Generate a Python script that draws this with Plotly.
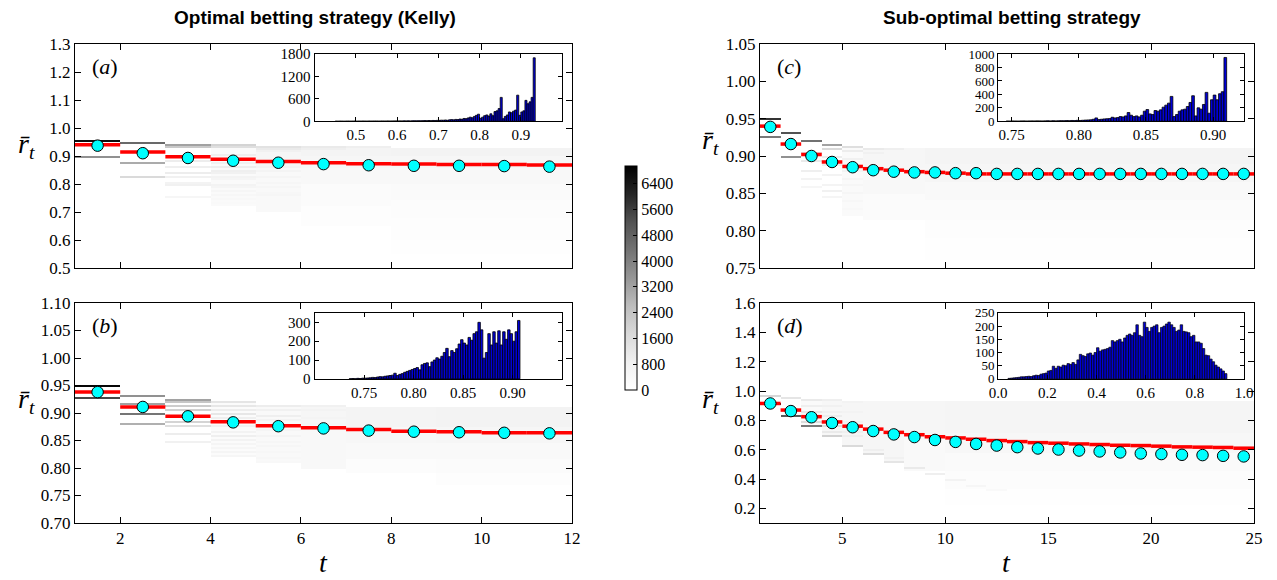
import numpy as np
import plotly.graph_objects as go

W, H = 1277, 580
SERIF = "Liberation Serif"
SANS = "Liberation Sans"

# ---------------- data ----------------
# step (red) values and mean (cyan markers) for each unit column t..t+1
red_a = [0.940, 0.914, 0.897, 0.888, 0.880, 0.876, 0.872, 0.871, 0.870, 0.870, 0.868]
mean_a = [0.937, 0.910, 0.893, 0.883, 0.876, 0.871, 0.867, 0.865, 0.865, 0.864, 0.862]
red_b = [0.938, 0.911, 0.894, 0.884, 0.877, 0.873, 0.870, 0.867, 0.866, 0.864, 0.864]
mean_b = [0.938, 0.911, 0.894, 0.883, 0.876, 0.872, 0.868, 0.866, 0.865, 0.864, 0.863]
red_c = [0.940, 0.916, 0.902, 0.892, 0.886, 0.883, 0.881, 0.879, 0.878, 0.877, 0.876, 0.876,
         0.876, 0.876, 0.876, 0.876, 0.876, 0.876, 0.876, 0.876, 0.876, 0.876, 0.876, 0.876]
mean_c = [0.939, 0.916, 0.900, 0.892, 0.885, 0.881, 0.879, 0.878, 0.878, 0.877, 0.877, 0.876,
          0.876, 0.876, 0.876, 0.876, 0.876, 0.876, 0.876, 0.876, 0.876, 0.876, 0.876, 0.876]
red_d = [0.915, 0.870, 0.825, 0.789, 0.760, 0.740, 0.718, 0.702, 0.688, 0.680, 0.671, 0.662,
         0.655, 0.648, 0.644, 0.639, 0.635, 0.630, 0.628, 0.624, 0.619, 0.617, 0.615, 0.610]
mean_d = [0.915, 0.863, 0.821, 0.782, 0.753, 0.727, 0.704, 0.686, 0.666, 0.653, 0.639, 0.628,
          0.617, 0.608, 0.601, 0.594, 0.588, 0.581, 0.574, 0.570, 0.565, 0.563, 0.558, 0.554]

# density lines (column t, r value, count) and bands (t0, t1, r_lo, r_hi, count)
lines_a = [
    (1, 0.957, 6600), (1, 0.900, 3600),
    (2, 0.946, 4600), (2, 0.878, 3000), (2, 0.825, 1700),
    (3, 0.937, 3200), (3, 0.932, 2200), (3, 0.880, 1000), (3, 0.862, 900), (3, 0.842, 1000),
    (3, 0.827, 800), (3, 0.803, 700), (3, 0.794, 800), (3, 0.757, 500),
    (4, 0.936, 1900), (4, 0.930, 1500), (4, 0.905, 900), (4, 0.872, 800), (4, 0.860, 1000),
    (4, 0.850, 900), (4, 0.838, 800), (4, 0.826, 700), (4, 0.815, 600), (4, 0.800, 700),
    (4, 0.787, 600), (4, 0.772, 500), (4, 0.760, 450), (4, 0.745, 400), (4, 0.730, 350),
    (5, 0.934, 1400), (5, 0.928, 1100), (5, 0.915, 800), (5, 0.862, 700), (5, 0.845, 650),
    (5, 0.822, 600), (5, 0.805, 550), (5, 0.790, 500), (5, 0.770, 450), (5, 0.758, 500),
    (6, 0.933, 1100), (6, 0.926, 900),
    (7, 0.932, 900),
]
bands_a = [
    (4, 5, 0.72, 0.93, 300),
    (5, 6, 0.86, 0.93, 500), (5, 6, 0.70, 0.86, 350),
    (6, 8, 0.90, 0.93, 650), (6, 8, 0.86, 0.90, 500), (6, 8, 0.80, 0.86, 380),
    (6, 8, 0.72, 0.80, 250), (6, 8, 0.65, 0.72, 130),
    (8, 12, 0.90, 0.932, 700), (8, 12, 0.86, 0.90, 520), (8, 12, 0.80, 0.86, 400),
    (8, 12, 0.74, 0.80, 280), (8, 12, 0.68, 0.74, 170), (8, 12, 0.60, 0.68, 90), (8, 12, 0.55, 0.60, 40),
]
lines_b = [
    (1, 0.949, 6800), (1, 0.926, 5400),
    (2, 0.932, 3600), (2, 0.918, 3200), (2, 0.900, 4300), (2, 0.881, 2900),
    (3, 0.925, 3200), (3, 0.920, 2300), (3, 0.914, 2100), (3, 0.904, 2000), (3, 0.885, 1900),
    (3, 0.876, 1500), (3, 0.861, 1000), (3, 0.849, 800),
    (4, 0.919, 1300), (4, 0.913, 1200), (4, 0.906, 1000), (4, 0.897, 1200), (4, 0.890, 900),
    (4, 0.876, 800), (4, 0.867, 700), (4, 0.859, 900), (4, 0.852, 700), (4, 0.843, 600),
    (4, 0.836, 550), (4, 0.828, 600), (4, 0.822, 500),
    (5, 0.913, 1000), (5, 0.906, 800), (5, 0.896, 900), (5, 0.886, 700), (5, 0.868, 600),
    (5, 0.858, 650), (5, 0.849, 550), (5, 0.840, 500), (5, 0.830, 450), (5, 0.820, 450), (5, 0.812, 400),
    (6, 0.912, 800), (6, 0.905, 700), (6, 0.890, 650), (6, 0.880, 600),
]
bands_b = [
    (4, 5, 0.82, 0.92, 250),
    (5, 6, 0.81, 0.912, 350),
    (6, 7, 0.87, 0.912, 550), (6, 7, 0.80, 0.87, 380),
    (7, 9, 0.875, 0.912, 650), (7, 9, 0.845, 0.875, 480), (7, 9, 0.815, 0.845, 330), (7, 9, 0.79, 0.815, 180),
    (9, 12, 0.875, 0.912, 700), (9, 12, 0.845, 0.875, 520), (9, 12, 0.815, 0.845, 370),
    (9, 12, 0.79, 0.815, 220), (9, 12, 0.77, 0.79, 100),
]
lines_c = [
    (1, 0.949, 5800), (1, 0.925, 4200),
    (2, 0.930, 5200), (2, 0.899, 3600),
    (3, 0.921, 4400), (3, 0.905, 1400), (3, 0.893, 1100), (3, 0.881, 900), (3, 0.868, 700), (3, 0.858, 500),
    (4, 0.914, 3200), (4, 0.909, 1700), (4, 0.900, 1000), (4, 0.887, 900), (4, 0.875, 700),
    (4, 0.862, 650), (4, 0.853, 800), (4, 0.845, 600),
    (5, 0.911, 1500), (5, 0.906, 1000), (5, 0.895, 800), (5, 0.880, 700), (5, 0.870, 600),
    (5, 0.860, 550), (5, 0.850, 500), (5, 0.840, 450), (5, 0.830, 400),
    (6, 0.910, 1100), (6, 0.905, 800),
    (7, 0.910, 900),
]
bands_c = [
    (5, 6, 0.82, 0.91, 300),
    (6, 9, 0.885, 0.91, 550), (6, 9, 0.85, 0.885, 400), (6, 9, 0.815, 0.85, 220),
    (9, 25, 0.89, 0.91, 650), (9, 25, 0.865, 0.89, 500), (9, 25, 0.84, 0.865, 350),
    (9, 25, 0.815, 0.84, 220), (9, 25, 0.79, 0.815, 120), (9, 25, 0.76, 0.79, 50),
]
lines_d = [
    (1, 0.962, 1800), (1, 0.915, 6500),
    (2, 0.952, 1300), (2, 0.870, 4000), (2, 0.827, 5000),
    (3, 0.937, 1100), (3, 0.900, 900), (3, 0.862, 1200), (3, 0.825, 2500), (3, 0.790, 1600), (3, 0.760, 4200),
    (4, 0.932, 900), (4, 0.900, 800), (4, 0.862, 800), (4, 0.825, 1000), (4, 0.790, 1200),
    (4, 0.760, 1500), (4, 0.727, 1100), (4, 0.693, 2000),
    (5, 0.930, 700), (5, 0.860, 700), (5, 0.790, 800), (5, 0.727, 900), (5, 0.695, 900), (5, 0.630, 1700),
    (6, 0.600, 900), (6, 0.576, 1600),
    (7, 0.545, 800), (7, 0.520, 1300),
    (8, 0.470, 1100),
    (9, 0.430, 900),
    (10, 0.390, 700),
    (11, 0.350, 500),
    (12, 0.320, 350),
]
bands_d = [
    (3, 4, 0.76, 0.94, 300),
    (4, 5, 0.69, 0.93, 450),
    (5, 6, 0.63, 0.93, 500),
    (6, 7, 0.58, 0.93, 500),
    (7, 8, 0.52, 0.93, 500),
    (8, 10, 0.70, 0.93, 550), (8, 10, 0.45, 0.70, 350),
    (10, 25, 0.72, 0.93, 600), (10, 25, 0.58, 0.72, 450), (10, 25, 0.45, 0.58, 280),
    (10, 25, 0.33, 0.45, 150), (10, 25, 0.22, 0.33, 70),
]

# inset histograms: first bin edge, bin width, counts
hist_a_start, hist_a_width = 0.45, 0.005
hist_a_counts = [2, 0, 3, 2, 0, 3, 4, 2, 3, 5, 2, 4, 3, 5, 4, 3, 6, 4, 5, 6, 5, 4, 7, 6, 5, 8, 6, 7, 8, 9,
                 8, 10, 9, 11, 10, 12, 9, 13, 14, 12, 15, 13, 16, 18, 15, 20, 17, 22, 19, 24,
                 25, 30, 28, 35, 26, 40, 45, 38, 50, 45,
                 60, 55, 75, 70, 90, 110, 95, 130, 160, 190,
                 80, 110, 150, 170, 140, 200, 150, 260, 280, 340,
                 640,
                 70, 130, 170, 250, 230, 270, 300,
                 700,
                 160, 250, 280, 560, 470, 520, 640,
                 1700]
hist_b_start, hist_b_width = 0.735, 0.0025
hist_b_counts = [1, 2, 1, 3, 2, 4,
                 4, 5, 6, 8, 7, 10, 12, 11, 14, 16,
                 18, 20, 30, 18, 24, 28, 35, 40, 45, 50,
                 55, 60, 48, 75, 82, 85, 65, 90, 100, 112,
                 105, 120, 140, 162, 118, 150, 140, 160, 185, 208,
                 190, 180, 220, 205, 240, 250, 300, 260, 110, 140,
                 240, 180, 250, 190, 255, 180, 250, 210, 260, 240, 200, 250, 310]
hist_c_start, hist_c_width = 0.746, 0.002
hist_c_counts = [3, 2, 4, 3, 2, 4, 5, 3, 4, 5, 4, 6, 5, 4, 6, 7, 5, 8, 6, 7, 9, 8, 10, 9, 12, 10, 14,
                 12, 15, 18, 20, 22, 30, 50, 25, 30, 35,
                 38, 40, 60, 50, 55, 70, 65, 80, 130, 90,
                 70, 80, 65, 90, 150, 175, 110, 100, 160, 150,
                 170, 210, 240, 270, 370,
                 70, 100, 150, 170, 180,
                 220, 280, 380, 80, 200,
                 180, 250, 430, 120, 320,
                 390, 320, 410, 440, 950]
hist_d_start, hist_d_width = 0.04, 0.01
hist_d_counts = [2, 3, 4, 5, 6, 8,
                 8, 9, 10, 9, 12, 14, 13, 18, 20, 22,
                 30, 32, 48, 40, 48, 45, 52, 50, 58, 55,
                 62, 55, 72, 93, 88, 85, 95, 98, 90, 100,
                 118, 105, 110, 112, 115, 120, 145, 140, 145, 150,
                 140, 155, 165, 170, 165, 175, 205, 165, 160, 215,
                 195, 180, 195, 200, 205, 175, 195, 200, 208, 215,
                 205, 195, 180, 185, 205, 180, 178, 175, 160, 165,
                 140, 140, 135, 115, 90, 88, 75, 65, 52, 45,
                 38, 30, 20]

colorbar_ticks = [0, 800, 1600, 2400, 3200, 4000, 4800, 5600, 6400]
COUNT_MAX = 6950

# ---------------- layout geometry (pixels) ----------------
PANELS = {
    "a": (75, 572, 44, 268),
    "b": (75, 572, 303, 523),
    "c": (760, 1254, 44, 268),
    "d": (760, 1254, 303, 523),
}


def xd(l, r):
    return [l / W, r / W]


def yd(t, b):
    return [1 - b / H, 1 - t / H]


def inset_box(p):
    l, r, t, b = PANELS[p]
    return (l + 0.482 * (r - l), l + 0.98 * (r - l), t + 0.045 * (b - t), t + 0.345 * (b - t))


def build_heat(t_first, t_last, ylo, yhi, nbins, lines, bands):
    ncols = t_last - t_first
    edges = np.linspace(ylo, yhi, nbins + 1)
    centers = 0.5 * (edges[:-1] + edges[1:])
    z = np.zeros((nbins, ncols))
    for (c0, c1, rlo, rhi, cnt) in bands:
        mask = (centers >= rlo) & (centers <= rhi)
        for c in range(c0, c1):
            z[mask, c - t_first] = np.maximum(z[mask, c - t_first], cnt)
    for (c, r, cnt) in lines:
        i = int(np.searchsorted(edges, r)) - 1
        if 0 <= i < nbins:
            z[i, c - t_first] = max(z[i, c - t_first], cnt)
    return list(range(t_first, t_last + 1)), edges, z


def step_xy(vals, t_first):
    xs, ys = [], []
    for i, v in enumerate(vals):
        xs += [t_first + i, t_first + i + 1, None]
        ys += [v, v, None]
    return xs, ys


fig = go.Figure()

panel_defs = [
    ("a", "x", "y", 1, 12, 0.5, 1.3, 112, lines_a, bands_a, red_a, mean_a),
    ("b", "x2", "y2", 1, 12, 0.7, 1.1, 110, lines_b, bands_b, red_b, mean_b),
    ("c", "x3", "y3", 1, 25, 0.75, 1.05, 112, lines_c, bands_c, red_c, mean_c),
    ("d", "x4", "y4", 1, 25, 0.1, 1.6, 110, lines_d, bands_d, red_d, mean_d),
]

for (p, xa, ya, t0, t1, ylo, yhi, nb, ln, bd, red, mean) in panel_defs:
    xe, ye, z = build_heat(t0, t1, ylo, yhi, nb, ln, bd)
    fig.add_trace(go.Heatmap(x=xe, y=ye, z=z, coloraxis="coloraxis", xaxis=xa, yaxis=ya,
                             hoverinfo="skip", zsmooth=False))
    sx, sy = step_xy(red, t0)
    fig.add_trace(go.Scatter(x=sx, y=sy, mode="lines", line=dict(color="#ff0000", width=3.5),
                             xaxis=xa, yaxis=ya, showlegend=False, hoverinfo="skip"))
    fig.add_trace(go.Scatter(x=[t0 + i + 0.5 for i in range(len(mean))], y=mean, mode="markers",
                             marker=dict(color="#00ffff", size=11.5, line=dict(color="black", width=1)),
                             xaxis=xa, yaxis=ya, showlegend=False, hoverinfo="skip"))

hist_defs = [
    ("x5", "y5", hist_a_start, hist_a_width, hist_a_counts, 0.8),
    ("x6", "y6", hist_b_start, hist_b_width, hist_b_counts, 0.8),
    ("x7", "y7", hist_c_start, hist_c_width, hist_c_counts, 0.8),
    ("x8", "y8", hist_d_start, hist_d_width, hist_d_counts, 0.7),
]
for (xa, ya, s, w, cnts, lw) in hist_defs:
    centers = [s + w * (i + 0.5) for i in range(len(cnts))]
    fig.add_trace(go.Bar(x=centers, y=cnts, width=w,
                         marker=dict(color="#0000d8", line=dict(color="black", width=lw)),
                         xaxis=xa, yaxis=ya, showlegend=False, hoverinfo="skip"))

tickfont = dict(family=SERIF, size=17, color="black")
insetfont = dict(family=SERIF, size=15, color="black")
insetfont_tight = dict(family=SERIF, size=13, color="black")


def axis(domain, rng, tickvals, fmt=None, labels=True, font=tickfont, anchor=None, ticklen=6):
    d = dict(domain=domain, range=rng, tickvals=tickvals, showline=True, linecolor="black", linewidth=1,
             mirror="allticks", ticks="inside", ticklen=ticklen, tickcolor="black", tickwidth=1,
             showgrid=False, zeroline=False, showticklabels=labels, tickfont=font, automargin=False,
             fixedrange=True)
    if fmt:
        d["tickformat"] = fmt
    if anchor:
        d["anchor"] = anchor
    return d


la, ra, ta, ba = PANELS["a"]
lb, rb, tb, bb = PANELS["b"]
lc, rc, tc, bc = PANELS["c"]
ld, rd, td, bdp = PANELS["d"]

ia = inset_box("a")
ib = inset_box("b")
ic = inset_box("c")
idd = inset_box("d")

layout = dict(
    width=W, height=H, margin=dict(l=0, r=0, t=0, b=0),
    paper_bgcolor="white", plot_bgcolor="white", showlegend=False, bargap=0,
    xaxis=axis(xd(la, ra), [1, 12], [2, 4, 6, 8, 10, 12], labels=False, anchor="y"),
    yaxis=axis(yd(ta, ba), [0.5, 1.3], [0.5, 0.6, 0.7, 0.8, 0.9, 1.0, 1.1, 1.2, 1.3], fmt=".1f", anchor="x"),
    xaxis2=axis(xd(lb, rb), [1, 12], [2, 4, 6, 8, 10, 12], anchor="y2"),
    yaxis2=axis(yd(tb, bb), [0.7, 1.1], [0.70, 0.75, 0.80, 0.85, 0.90, 0.95, 1.00, 1.05, 1.10], fmt=".2f", anchor="x2"),
    xaxis3=axis(xd(lc, rc), [1, 25], [5, 10, 15, 20, 25], labels=False, anchor="y3"),
    yaxis3=axis(yd(tc, bc), [0.75, 1.05], [0.75, 0.80, 0.85, 0.90, 0.95, 1.00, 1.05], fmt=".2f", anchor="x3"),
    xaxis4=axis(xd(ld, rd), [1, 25], [5, 10, 15, 20, 25], anchor="y4"),
    yaxis4=axis(yd(td, bdp), [0.1, 1.6], [0.2, 0.4, 0.6, 0.8, 1.0, 1.2, 1.4, 1.6], fmt=".1f", anchor="x4"),
    xaxis5=axis(xd(ia[0], ia[1]), [0.4, 1.0], [0.5, 0.6, 0.7, 0.8, 0.9], fmt=".1f", font=insetfont, anchor="y5", ticklen=4),
    yaxis5=axis(yd(ia[2], ia[3]), [0, 1800], [0, 600, 1200, 1800], font=insetfont, anchor="x5", ticklen=4),
    xaxis6=axis(xd(ib[0], ib[1]), [0.70, 0.95], [0.75, 0.80, 0.85, 0.90], fmt=".2f", font=insetfont, anchor="y6", ticklen=4),
    yaxis6=axis(yd(ib[2], ib[3]), [0, 350], [0, 100, 200, 300], font=insetfont, anchor="x6", ticklen=4),
    xaxis7=axis(xd(ic[0], ic[1]), [0.74, 0.923], [0.75, 0.80, 0.85, 0.90], fmt=".2f", font=insetfont, anchor="y7", ticklen=4),
    yaxis7=axis(yd(ic[2], ic[3]), [0, 1000], [0, 200, 400, 600, 800, 1000], font=insetfont_tight, anchor="x7", ticklen=4),
    xaxis8=axis(xd(idd[0], idd[1]), [0.0, 1.0], [0.0, 0.2, 0.4, 0.6, 0.8, 1.0], fmt=".1f", font=insetfont, anchor="y8", ticklen=4),
    yaxis8=axis(yd(idd[2], idd[3]), [0, 250], [0, 50, 100, 150, 200, 250], font=insetfont_tight, anchor="x8", ticklen=4),
    coloraxis=dict(
        cmin=0, cmax=COUNT_MAX,
        colorscale=[[0.0, "#ffffff"], [0.125, "#f0f0f0"], [0.25, "#d9d9d9"], [0.375, "#bdbdbd"],
                    [0.5, "#969696"], [0.625, "#737373"], [0.75, "#525252"], [0.875, "#252525"], [1.0, "#000000"]],
        colorbar=dict(x=625 / W, xanchor="left", xref="paper", thickness=12, thicknessmode="pixels",
                      len=224 / H, lenmode="fraction", y=1 - 390 / H, yanchor="bottom", yref="paper",
                      tickvals=colorbar_ticks, ticks="inside", ticklen=4, tickcolor="black",
                      outlinecolor="black", outlinewidth=1, tickfont=dict(family=SERIF, size=16, color="black"),
                      xpad=0, ypad=0),
    ),
)
fig.update_layout(**layout)

ann = []
ann.append(dict(text="<b>Optimal betting strategy (Kelly)</b>", x=315 / W, y=1 - 17 / H, xref="paper", yref="paper",
                showarrow=False, font=dict(family=SANS, size=19, color="black"), xanchor="center", yanchor="middle"))
ann.append(dict(text="<b>Sub-optimal betting strategy</b>", x=1012 / W, y=1 - 17 / H, xref="paper", yref="paper",
                showarrow=False, font=dict(family=SANS, size=19, color="black"), xanchor="center", yanchor="middle"))
for lab, (l, r, t, b) in PANELS.items():
    ann.append(dict(text="(<i>%s</i>)" % lab, x=(l + 0.03 * (r - l)) / W, y=1 - (t + 0.1 * (b - t)) / H,
                    xref="paper", yref="paper", showarrow=False, xanchor="left", yanchor="middle",
                    font=dict(family=SERIF, size=22, color="black")))
rlab = "<i>r\u0304</i><sub><i>t</i></sub>"
for (xpx, ypx) in [(26, 145), (26, 400), (710, 142), (710, 400)]:
    ann.append(dict(text=rlab, x=xpx / W, y=1 - ypx / H, xref="paper", yref="paper", showarrow=False,
                    xanchor="center", yanchor="middle", font=dict(family=SERIF, size=28, color="black")))
for xpx in [(la + ra) / 2, (ld + rd) / 2]:
    ann.append(dict(text="<i>t</i>", x=xpx / W, y=1 - 562 / H, xref="paper", yref="paper", showarrow=False,
                    xanchor="center", yanchor="middle", font=dict(family=SERIF, size=28, color="black")))
fig.update_layout(annotations=ann)

fig.write_html("out.html", config={"displayModeBar": False, "staticPlot": True},
               post_script="document.body.style.margin='0px';document.body.style.overflow='hidden';")
